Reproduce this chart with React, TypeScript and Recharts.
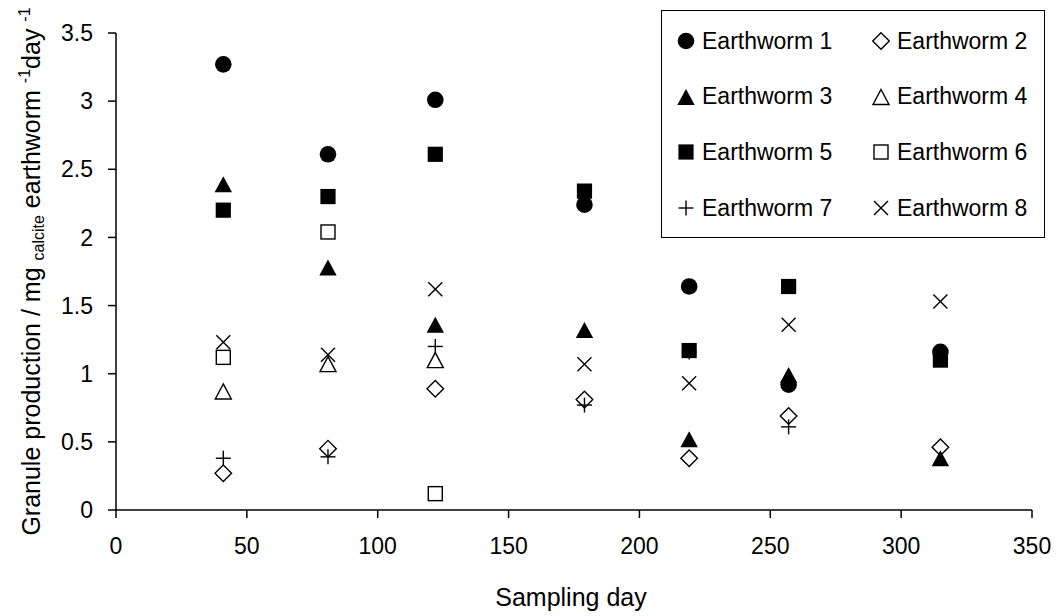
import { ScatterChart, Scatter, XAxis, YAxis, Legend, Label } from 'recharts'

const days = [41, 81, 122, 179, 219, 257, 315]

const earthworm1 = [3.27, 2.61, 3.01, 2.24, 1.64, 0.92, 1.16]
const earthworm2 = [0.27, 0.45, 0.89, 0.81, 0.38, 0.69, 0.46]
const earthworm3 = [2.39, 1.78, 1.36, 1.32, 0.52, 0.99, 0.38]
const earthworm4 = [0.87, 1.07, 1.1]
const earthworm5 = [2.2, 2.3, 2.61, 2.34, 1.17, 1.64, 1.1]
const earthworm6 = [1.12, 2.04, 0.12]
const earthworm7 = [0.38, 0.39, 1.2, 0.77, 1.16, 0.61, 1.13]
const earthworm8 = [1.23, 1.14, 1.62, 1.07, 0.93, 1.36, 1.53]

const xTicks = [0, 50, 100, 150, 200, 250, 300, 350]
const yTicks = [0, 0.5, 1, 1.5, 2, 2.5, 3, 3.5]

const FONT = '"Liberation Sans", Arial, sans-serif'

type MarkerKind =
  | 'dot'
  | 'diamond'
  | 'triangle'
  | 'triangleOpen'
  | 'square'
  | 'squareOpen'
  | 'plus'
  | 'cross'

const series: { name: string; values: number[]; marker: MarkerKind }[] = [
  { name: 'Earthworm 1', values: earthworm1, marker: 'dot' },
  { name: 'Earthworm 2', values: earthworm2, marker: 'diamond' },
  { name: 'Earthworm 3', values: earthworm3, marker: 'triangle' },
  { name: 'Earthworm 4', values: earthworm4, marker: 'triangleOpen' },
  { name: 'Earthworm 5', values: earthworm5, marker: 'square' },
  { name: 'Earthworm 6', values: earthworm6, marker: 'squareOpen' },
  { name: 'Earthworm 7', values: earthworm7, marker: 'plus' },
  { name: 'Earthworm 8', values: earthworm8, marker: 'cross' },
]

function Marker({ kind, cx, cy }: { kind: MarkerKind; cx: number; cy: number }) {
  const sw = 1.4
  switch (kind) {
    case 'dot':
      return <circle cx={cx} cy={cy} r={8.3} fill="#000" />
    case 'diamond':
      return (
        <polygon
          points={`${cx},${cy - 8.3} ${cx + 8.3},${cy} ${cx},${cy + 8.3} ${cx - 8.3},${cy}`}
          fill="none"
          stroke="#000"
          strokeWidth={sw}
        />
      )
    case 'triangle':
      return (
        <polygon
          points={`${cx},${cy - 8} ${cx + 8.7},${cy + 8} ${cx - 8.7},${cy + 8}`}
          fill="#000"
        />
      )
    case 'triangleOpen':
      return (
        <polygon
          points={`${cx},${cy - 7.5} ${cx + 8},${cy + 7.5} ${cx - 8},${cy + 7.5}`}
          fill="none"
          stroke="#000"
          strokeWidth={sw}
        />
      )
    case 'square':
      return <rect x={cx - 7.6} y={cy - 7.6} width={15.2} height={15.2} fill="#000" />
    case 'squareOpen':
      return (
        <rect
          x={cx - 7}
          y={cy - 7}
          width={14}
          height={14}
          fill="none"
          stroke="#000"
          strokeWidth={sw}
        />
      )
    case 'plus':
      return (
        <g stroke="#000" strokeWidth={sw}>
          <line x1={cx - 7.5} y1={cy} x2={cx + 7.5} y2={cy} />
          <line x1={cx} y1={cy - 7.5} x2={cx} y2={cy + 7.5} />
        </g>
      )
    case 'cross':
      return (
        <g stroke="#000" strokeWidth={sw}>
          <line x1={cx - 7} y1={cy - 7} x2={cx + 7} y2={cy + 7} />
          <line x1={cx - 7} y1={cy + 7} x2={cx + 7} y2={cy - 7} />
        </g>
      )
  }
  return null
}

function renderLegend() {
  return (
    <div
      style={{
        position: 'relative',
        width: 384,
        height: 228,
        border: '1.5px solid #000',
        boxSizing: 'border-box',
        background: '#fff',
        fontFamily: FONT,
        fontSize: 23,
        color: '#000',
      }}
    >
      {series.map((s, i) => {
        const col = i % 2
        const row = Math.floor(i / 2)
        return (
          <div
            key={s.name}
            style={{
              position: 'absolute',
              left: 13 + col * 195,
              top: 30 + row * 55.7 - 15,
              height: 30,
              display: 'flex',
              alignItems: 'center',
              whiteSpace: 'nowrap',
              lineHeight: 1,
            }}
          >
            <svg width={22} height={22} style={{ marginRight: 5 }}>
              <Marker kind={s.marker} cx={11} cy={11} />
            </svg>
            <span>{s.name}</span>
          </div>
        )
      })}
    </div>
  )
}

function YTitle(props: any) {
  const vb = props.viewBox || { x: 0, y: 33, width: 116, height: 477 }
  const cy = vb.y + vb.height / 2
  return (
    <text
      transform={`translate(40, ${cy}) rotate(-90)`}
      x={0}
      y={0}
      textAnchor="middle"
      fontFamily={FONT}
      fontSize={25}
      fill="#000"
    >
      Granule production / mg{' '}
      <tspan fontSize={16} dy={4}>
        calcite
      </tspan>
      <tspan dy={-4}> earthworm </tspan>
      <tspan fontSize={16} dy={-10}>
        -1
      </tspan>
      <tspan dy={10}>day </tspan>
      <tspan fontSize={16} dy={-10}>
        -1
      </tspan>
    </text>
  )
}

function XTitle(props: any) {
  const vb = props.viewBox || { x: 116, y: 510, width: 916, height: 106 }
  return (
    <text
      x={vb.x + vb.width / 2 - 3}
      y={606}
      textAnchor="middle"
      fontFamily={FONT}
      fontSize={25}
      fill="#000"
    >
      Sampling day
    </text>
  )
}

export default function App() {
  const tickStyle = { fill: '#000', fontSize: 23, fontFamily: FONT }
  return (
    <div style={{ position: 'absolute', left: 0, top: 0, background: '#fff' }}>
      <ScatterChart width={1062} height={616} margin={{ top: 33, right: 30, bottom: 0, left: 0 }}>
        <XAxis
          type="number"
          dataKey="day"
          domain={[0, 350]}
          ticks={xTicks}
          interval={0}
          height={106}
          tickSize={8}
          tickMargin={20}
          tick={tickStyle}
          axisLine={{ stroke: '#000', strokeWidth: 1.5 }}
          tickLine={{ stroke: '#000', strokeWidth: 1.5 }}
        >
          <Label content={XTitle} />
        </XAxis>
        <YAxis
          type="number"
          dataKey="value"
          domain={[0, 3.5]}
          ticks={yTicks}
          interval={0}
          width={116}
          tickSize={8}
          tickMargin={15}
          tick={tickStyle}
          axisLine={{ stroke: '#000', strokeWidth: 1.5 }}
          tickLine={{ stroke: '#000', strokeWidth: 1.5 }}
        >
          <Label content={YTitle} />
        </YAxis>
        <Legend
          content={renderLegend}
          layout="horizontal"
          verticalAlign="middle"
          align="center"
          wrapperStyle={{ left: 661, top: 10, width: 384, height: 228 }}
        />
        {series.map((s) => (
          <Scatter
            key={s.name}
            name={s.name}
            data={s.values.map((v, i) => ({ day: days[i], value: v }))}
            isAnimationActive={false}
            shape={(p: any) => <Marker kind={s.marker} cx={p.cx} cy={p.cy} />}
          />
        ))}
      </ScatterChart>
    </div>
  )
}
